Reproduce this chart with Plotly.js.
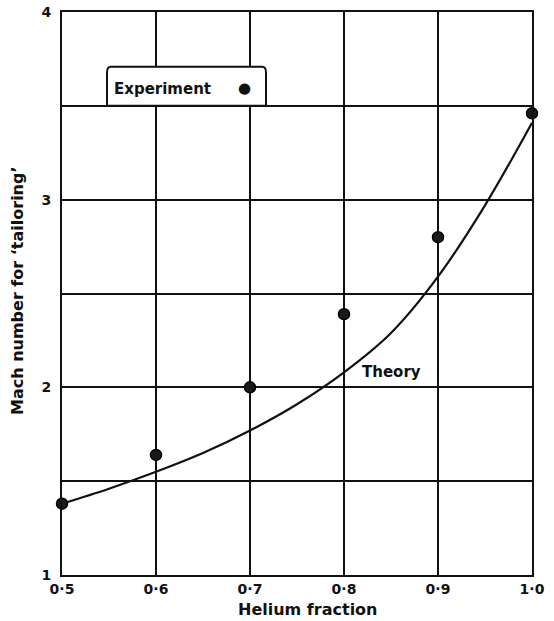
<!DOCTYPE html>
<html>
<head>
<meta charset="utf-8">
<script src="https://cdn.plot.ly/plotly-3.0.1.min.js"></script>
<style>html,body{margin:0;padding:0;background:#fff;}#chart{width:554px;height:621px;}</style>
</head>
<body>
<div id="chart"></div>
<script>
// Experimental points
const expX = [0.5, 0.6, 0.7, 0.8, 0.9, 1.0];
const expY = [1.38, 1.64, 2.0, 2.39, 2.8, 3.46];
// Theory curve
const theoryX = [0.5, 0.55, 0.6, 0.65, 0.7, 0.75, 0.8, 0.85, 0.9, 0.95, 1.0];
const theoryY = [1.38, 1.46, 1.55, 1.65, 1.77, 1.91, 2.08, 2.29, 2.59, 2.97, 3.41];
// Axis ticks
const xTickVals = [0.5, 0.6, 0.7, 0.8, 0.9, 1.0];
const xTickText = ['0·5', '0·6', '0·7', '0·8', '0·9', '1·0'];
const yTickVals = [1, 1.5, 2, 2.5, 3, 3.5, 4];
const yTickText = ['1', '', '2', '', '3', '', '4'];

const FONT = 'DejaVu Sans, sans-serif';
const INK = '#111';

const traces = [
  {
    x: theoryX, y: theoryY, mode: 'lines', type: 'scatter',
    line: {color: INK, width: 2.2, shape: 'spline', smoothing: 1},
    hoverinfo: 'skip', showlegend: false, cliponaxis: false
  },
  {
    x: expX, y: expY, mode: 'markers', type: 'scatter',
    marker: {color: '#1a1a1a', size: 11, line: {color: '#000', width: 1.5}},
    showlegend: false, cliponaxis: false
  }
];

const layout = {
  width: 554, height: 621,
  margin: {l: 62, r: 22, t: 12, b: 46},
  paper_bgcolor: '#fff', plot_bgcolor: '#fff',
  font: {family: FONT, size: 14, color: INK},
  showlegend: false,
  xaxis: {
    range: [0.5, 1.0], tickvals: xTickVals, ticktext: xTickText,
    showgrid: true, gridcolor: INK, gridwidth: 2,
    showline: true, linecolor: INK, linewidth: 2, mirror: true,
    ticks: '',
    tickfont: {family: FONT, size: 14, color: INK, weight: 'bold'},
    zeroline: false, fixedrange: true,
    title: {text: ''}
  },
  yaxis: {
    range: [1, 4], tickvals: yTickVals, ticktext: yTickText,
    showgrid: true, gridcolor: INK, gridwidth: 2,
    showline: true, linecolor: INK, linewidth: 2, mirror: true,
    ticks: 'outside', ticklen: 6, tickcolor: 'rgba(0,0,0,0)',
    tickfont: {family: FONT, size: 14, color: INK, weight: 'bold'},
    zeroline: false, fixedrange: true,
    title: {text: ''}
  },
  shapes: [],
  annotations: [
    {
      xref: 'paper', yref: 'paper', x: 0.523, y: -0.04, xanchor: 'center', yanchor: 'top',
      text: 'Helium fraction', showarrow: false,
      font: {family: FONT, size: 16, color: INK, weight: 'bold'}
    },
    {
      xref: 'paper', yref: 'paper', x: -0.095, y: 0.505, xanchor: 'center', yanchor: 'middle',
      text: "Mach number for ‘tailoring’", textangle: -90, showarrow: false,
      font: {family: FONT, size: 16, color: INK, weight: 'bold'}
    },
    {
      xref: 'x', yref: 'y', x: 0.85, y: 2.08, xanchor: 'center', yanchor: 'middle',
      text: 'Theory', showarrow: false,
      font: {family: FONT, size: 15, color: INK, weight: 'bold'}
    }
  ]
};

// Legend box "Experiment ●" drawn as a white rounded box over the grid
(function(){
  const x0 = 0.5 + (107 - 62) / 940, x1 = 0.5 + (266 - 62) / 940;
  const y0 = 3.5, y1 = 3.5 + (106 - 67) / 187.7;
  const rx = 0.004, ry = 0.03;
  layout.shapes.push({
    type: 'path', xref: 'x', yref: 'y', layer: 'above',
    path: `M ${x0},${y0} L ${x0},${y1 - ry} Q ${x0},${y1} ${x0 + rx},${y1} L ${x1 - rx},${y1} Q ${x1},${y1} ${x1},${y1 - ry} L ${x1},${y0} Z`,
    fillcolor: '#fff', line: {color: INK, width: 2}
  });
  layout.annotations.push({
    xref: 'x', yref: 'y', x: 0.5 + (112 - 62) / 940, y: 3.5 + (106 - 89) / 187.7,
    xanchor: 'left', yanchor: 'middle', text: 'Experiment', showarrow: false,
    font: {family: FONT, size: 15, color: INK, weight: 'bold'}
  });
  layout.annotations.push({
    xref: 'x', yref: 'y', x: 0.5 + (244 - 62) / 940, y: 3.5 + (106 - 88) / 187.7,
    xanchor: 'center', yanchor: 'middle', text: '●', showarrow: false,
    font: {family: FONT, size: 15, color: INK}
  });
})();

Plotly.newPlot('chart', traces, layout, {displayModeBar: false, staticPlot: true});
</script>
</body>
</html>
